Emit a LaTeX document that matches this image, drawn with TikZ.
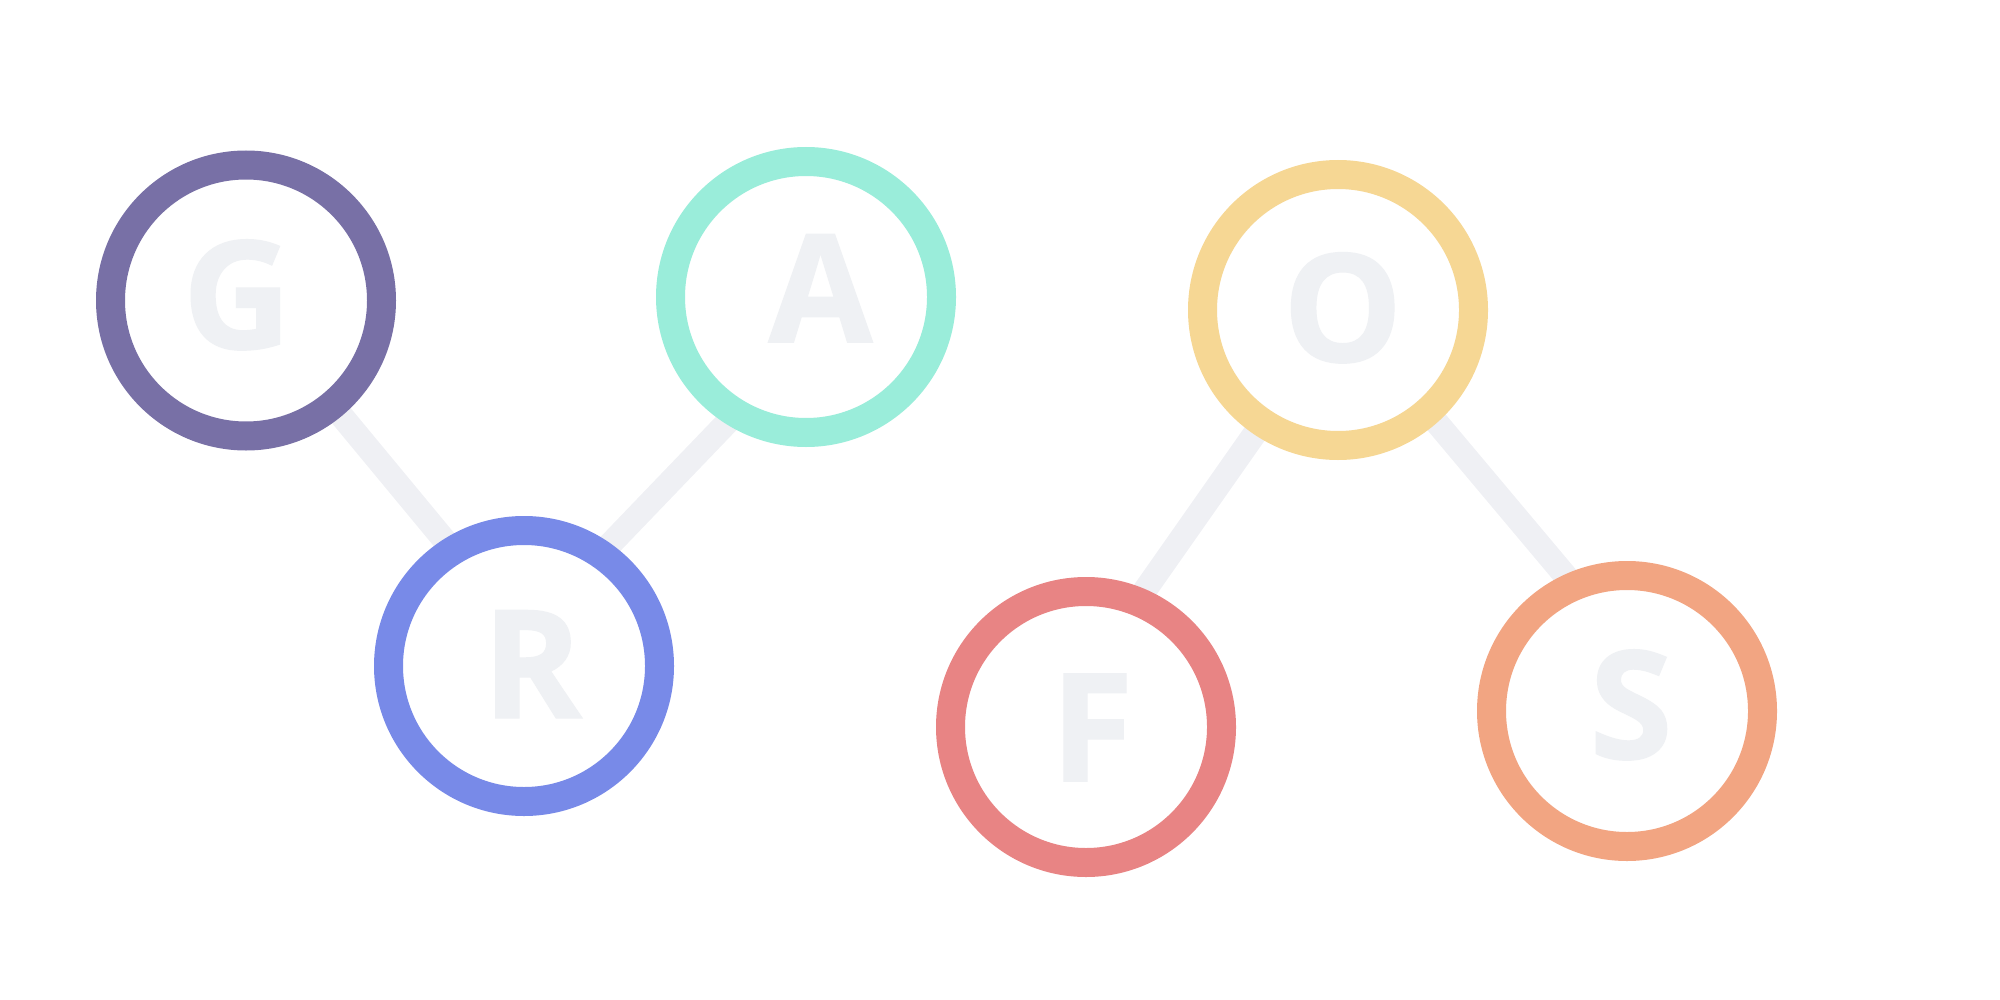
\documentclass[tikz,border=0pt]{standalone}
\usepackage{fontspec}
\setmainfont{Open Sans}
\newfontfamily\xb{Open Sans}[BoldFeatures={FakeBold=1.2}]
\usetikzlibrary{backgrounds}
\definecolor{cG}{HTML}{7870A6}
\definecolor{cA}{HTML}{9AEDDA}
\definecolor{cR}{HTML}{788AE8}
\definecolor{cO}{HTML}{F6D794}
\definecolor{cF}{HTML}{E88484}
\definecolor{cS}{HTML}{F2A582}
\definecolor{letter}{HTML}{EFF1F4}
\definecolor{edgec}{HTML}{EFF0F4}
\tikzset{
  ring/.style={circle, draw=#1, fill=white, line width=14.5pt, minimum size=135.5pt, inner sep=0pt},
  glyph/.style={text=letter, inner sep=0pt, anchor=base, font=\fontsize{75}{75}\selectfont\xb\bfseries},
  link/.style={draw=edgec, line width=12pt}
}
\begin{document}
\begin{tikzpicture}[x=0.5pt, y=-0.5pt]
\useasboundingbox (0,0) rectangle (2000,1000);
\node[ring=cG] (G) at (246,300.5) {};
\node[ring=cA] (A) at (806,297) {};
\node[ring=cR] (R) at (524,666) {};
\node[ring=cO] (O) at (1338,310) {};
\node[ring=cF] (F) at (1086,727) {};
\node[ring=cS] (S) at (1627,711) {};
\node[glyph] (Gt) at (237,348.5) {G};
\node[glyph] (At) at (820.5,342) {A};
\node[glyph] (Rt) at (532,717.7) {R};
\node[glyph] (Ot) at (1342.7,361.5) {O};
\node[glyph] (Ft) at (1092,781) {F};
\node[glyph] (St) at (1631,758.5) {S};
\coordinate (jR) at (523,635);
\coordinate (jA) at (790,357);
\coordinate (jO1) at (1338,315);
\coordinate (jO2) at (1338,305);
\coordinate (jF) at (1082,680);
\coordinate (jS) at (1653,680);
\begin{pgfonlayer}{background}
\draw[link] (G.center) -- (jR);
\draw[link] (jR) -- (jA);
\draw[link] (jO1) -- (jF);
\draw[link] (jO2) -- (jS);
\end{pgfonlayer}
\end{tikzpicture}
\end{document}
